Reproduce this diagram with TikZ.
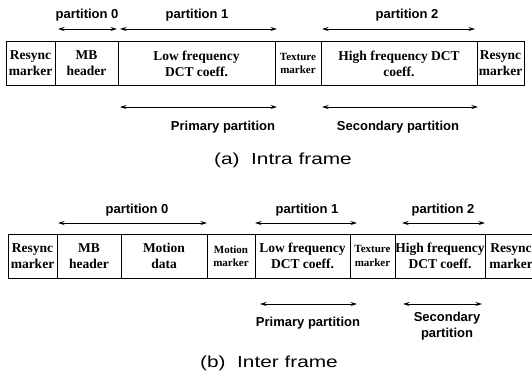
\documentclass[tikz,border=0pt]{standalone}
\usepackage{fontspec}
\setmainfont{Liberation Serif}
\setsansfont{Liberation Sans}
\newfontfamily\capfont[FakeStretch=1.3]{Liberation Sans}
\usetikzlibrary{arrows.meta}
\begin{document}
\begin{tikzpicture}[x=1pt,y=-1pt,
  cell/.style={draw,line width=1pt,inner sep=0pt,align=center,
    font=\rmfamily\bfseries\fontsize{13.5}{16}\selectfont},
  smallcell/.style={cell,font=\rmfamily\bfseries\fontsize{11}{13.5}\selectfont},
  span/.style={{Stealth[length=6.5pt,width=4pt]}-{Stealth[length=6.5pt,width=4pt]},line width=0.9pt},
  lbl/.style={font=\sffamily\bfseries\fontsize{13}{15}\selectfont,align=center,inner sep=0pt},
  caption/.style={font=\capfont\fontsize{16}{18}\selectfont,inner sep=0pt}]
\clip (0,0) rectangle (532,376);

% ---------- (a) intra frame packet ----------
\node[cell,minimum width=49pt,minimum height=43.5pt] (ra1) at (30.5,63.5) {Resync\\marker};
\node[cell,minimum width=63pt,minimum height=43.5pt] (mba) at (86.5,63.5) {MB\\header};
\node[cell,minimum width=157pt,minimum height=43.5pt] (lfa) at (196.5,63.5) {Low frequency\\DCT coeff.};
\node[smallcell,minimum width=46pt,minimum height=43.5pt] (txa) at (298,63.5) {Texture\\marker};
\node[cell,minimum width=156pt,minimum height=43.5pt] (hfa) at (399,63.5) {High frequency DCT\\coeff.};
\node[cell,minimum width=47pt,minimum height=43.5pt] (ra2) at (500.5,63.5) {Resync\\marker};

\coordinate (a0l) at (58,29);  \coordinate (a0r) at (117,29);
\coordinate (a1l) at (120,29); \coordinate (a1r) at (277,29);
\coordinate (a2l) at (322,29); \coordinate (a2r) at (475,29);
\draw[span] (a0l) -- (a0r);
\draw[span] (a1l) -- (a1r);
\draw[span] (a2l) -- (a2r);
\node[lbl] (pa0) at (87,15) {partition 0};
\node[lbl] (pa1) at (197,15) {partition 1};
\node[lbl] (pa2) at (407,15) {partition 2};

\coordinate (apl) at (120,107); \coordinate (apr) at (277,107);
\coordinate (asl) at (322,107); \coordinate (asr) at (478,107);
\draw[span] (apl) -- (apr);
\draw[span] (asl) -- (asr);
\node[lbl] (prima) at (223,127) {Primary partition};
\node[lbl] (seca) at (398,127) {Secondary partition};

\node[caption] (capa) at (283,160) {(a)\ \ Intra frame};

% ---------- (b) inter frame packet ----------
\node[cell,minimum width=49pt,minimum height=44pt] (rb1) at (32.5,256) {Resync\\marker};
\node[cell,minimum width=64pt,minimum height=44pt] (mbb) at (89,256) {MB\\header};
\node[cell,minimum width=86pt,minimum height=44pt] (mdb) at (164,256) {Motion\\data};
\node[smallcell,minimum width=48pt,minimum height=44pt] (mmb) at (231,256) {Motion\\marker};
\node[cell,minimum width=95pt,minimum height=44pt] (lfb) at (302.5,256) {Low frequency\\DCT coeff.};
\node[smallcell,minimum width=45pt,minimum height=44pt] (txb) at (372.5,256) {Texture\\marker};
\node[cell,minimum width=90pt,minimum height=44pt] (hfb) at (440,256) {High frequency\\DCT coeff.};
\node[cell,minimum width=52pt,minimum height=44pt] (rb2) at (511,256) {Resync\\marker};

\coordinate (b0l) at (58,223);  \coordinate (b0r) at (207,223);
\coordinate (b1l) at (255,223); \coordinate (b1r) at (357,223);
\coordinate (b2l) at (402,223); \coordinate (b2r) at (485,223);
\draw[span] (b0l) -- (b0r);
\draw[span] (b1l) -- (b1r);
\draw[span] (b2l) -- (b2r);
\node[lbl] (pb0) at (137,210) {partition 0};
\node[lbl] (pb1) at (307,210) {partition 1};
\node[lbl] (pb2) at (443,210) {partition 2};

\coordinate (bpl) at (260,304); \coordinate (bpr) at (357,304);
\coordinate (bsl) at (403,304); \coordinate (bsr) at (482,304);
\draw[span] (bpl) -- (bpr);
\draw[span] (bsl) -- (bsr);
\node[lbl] (primb) at (308,323) {Primary partition};
\node[lbl,font=\sffamily\bfseries\fontsize{13}{16}\selectfont] (secb) at (447,326) {Secondary\\partition};

\node[caption] (capb) at (269,363) {(b)\ \ Inter frame};
\end{tikzpicture}
\end{document}
